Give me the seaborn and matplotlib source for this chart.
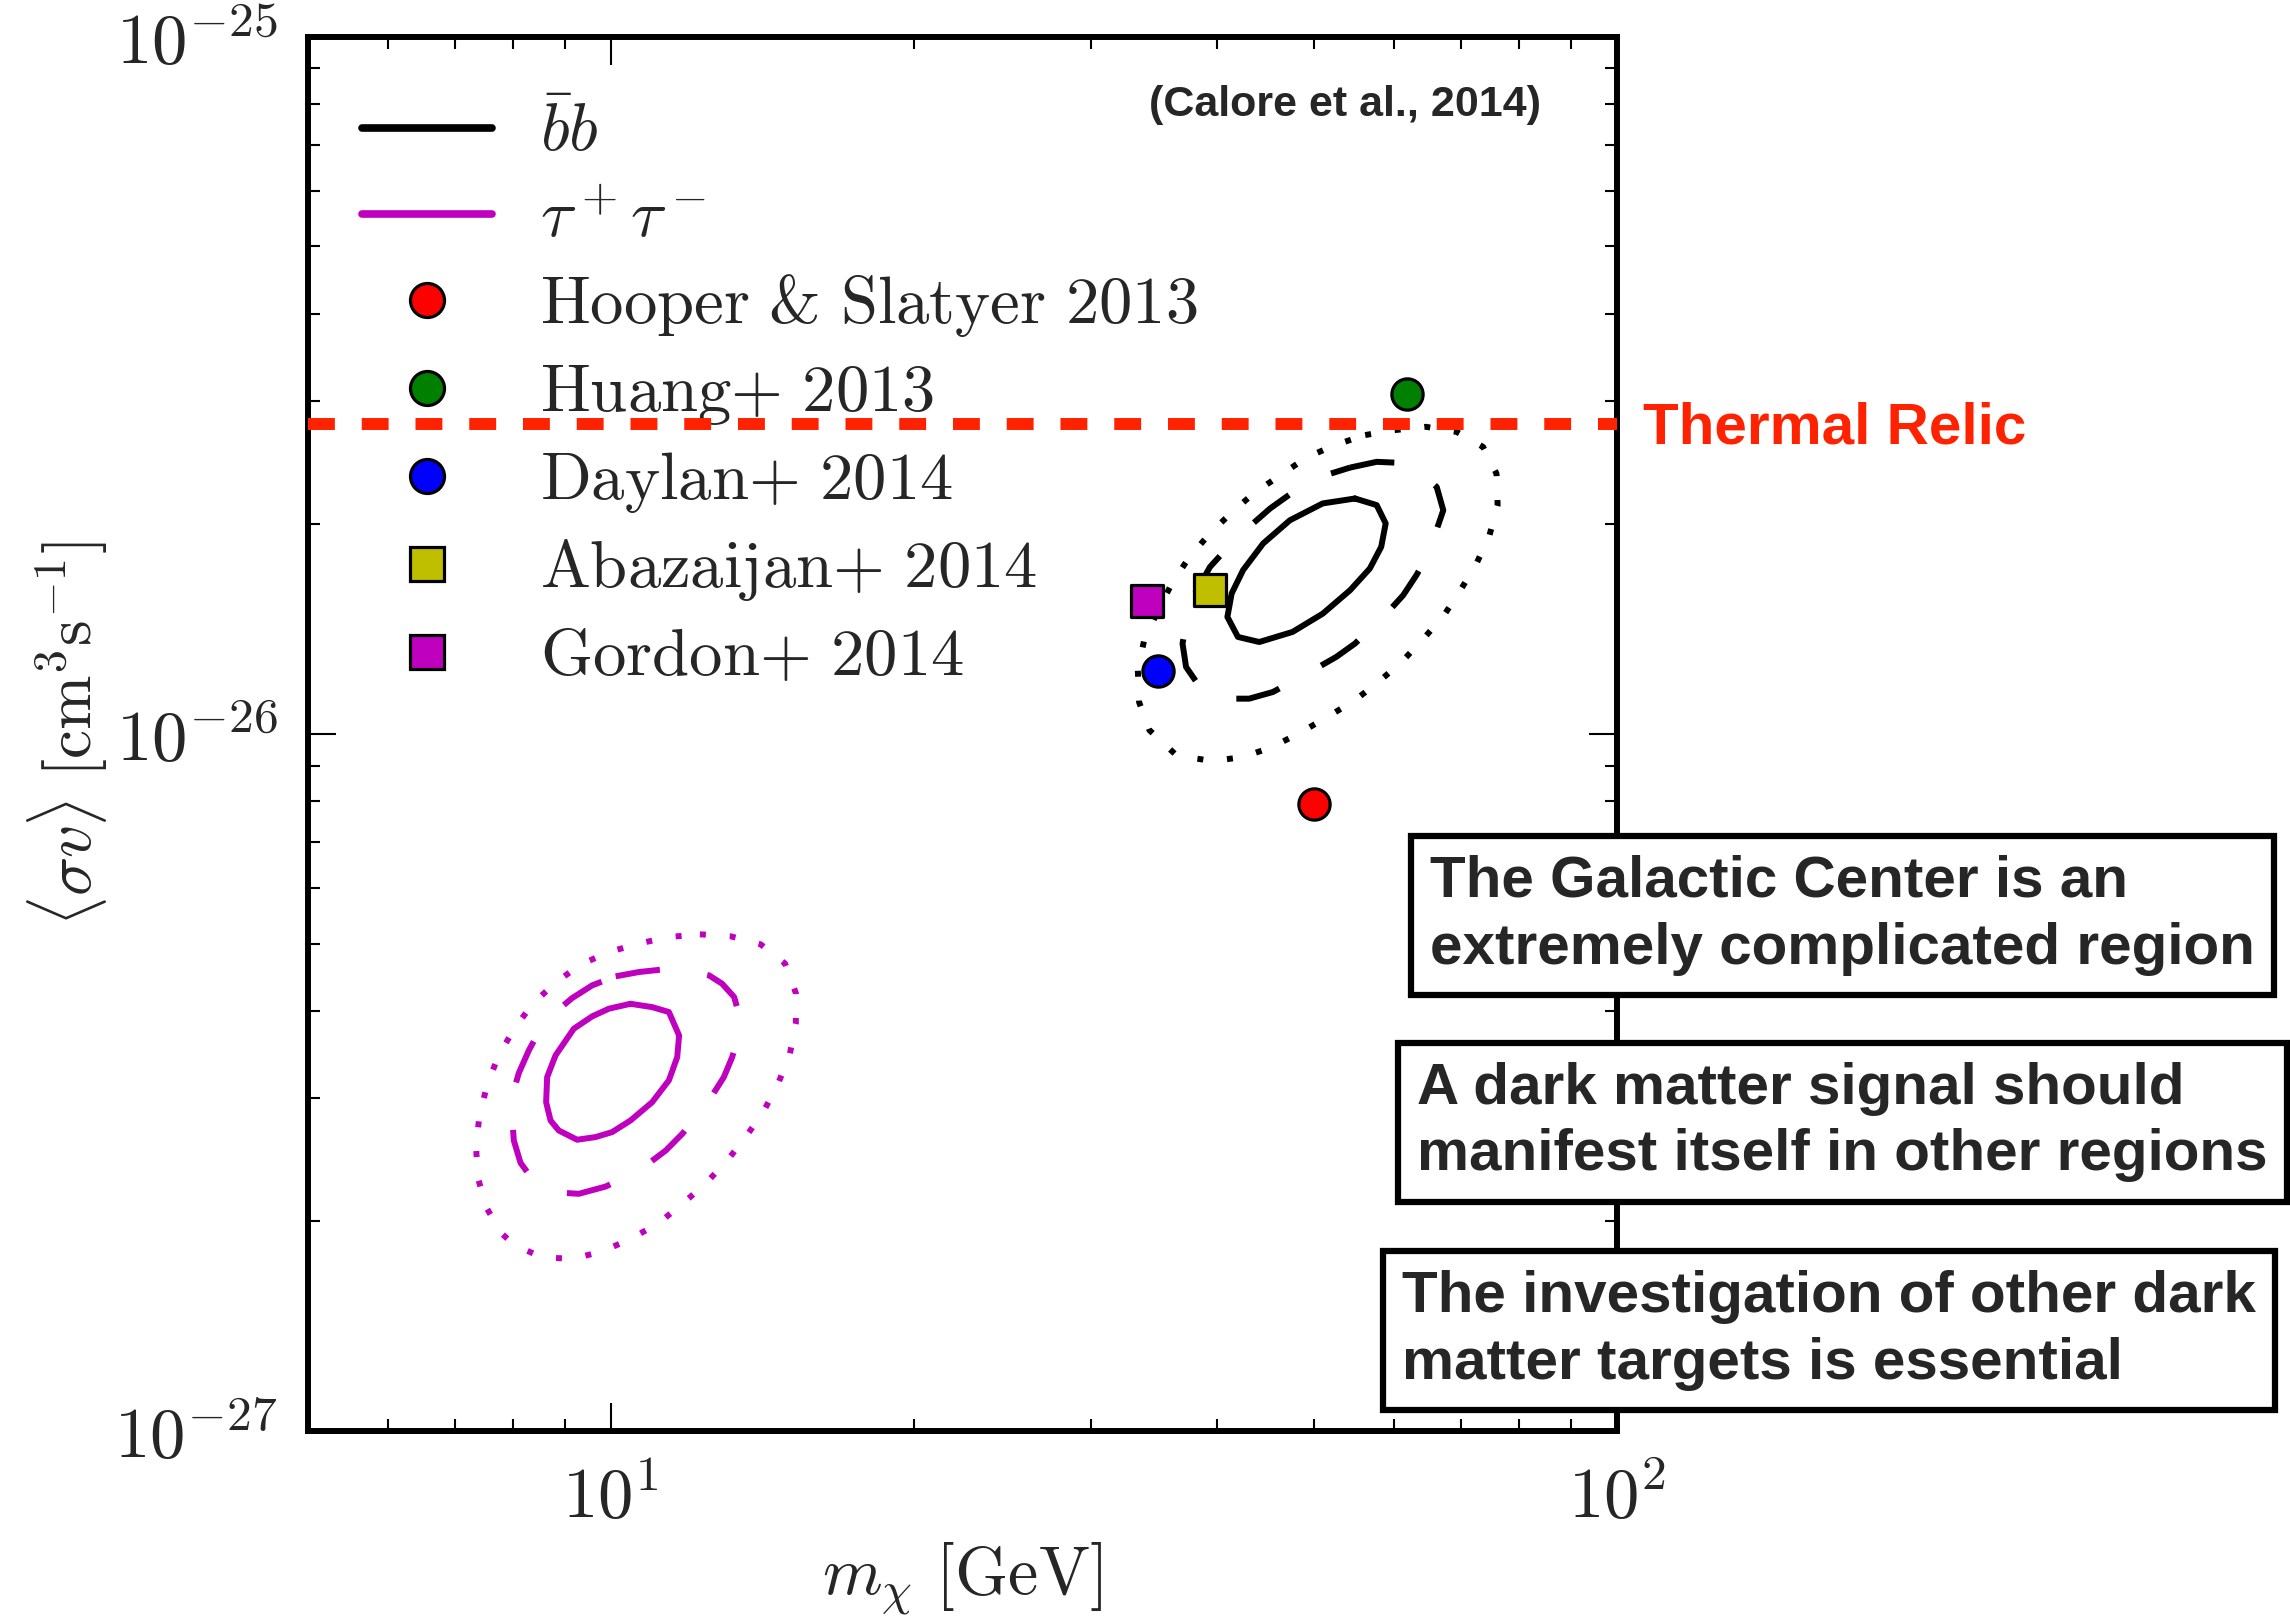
import numpy as np
import matplotlib
matplotlib.use('Agg')
import matplotlib.pyplot as plt
import matplotlib.transforms as mtransforms
from matplotlib.lines import Line2D
from matplotlib.ticker import FixedLocator, LogLocator, NullFormatter, FuncFormatter
import seaborn as sns

sns.set_style('ticks')
plt.rcParams['font.family'] = ['DejaVu Sans']
plt.rcParams['mathtext.fontset'] = 'cm'

# ---------------- data ----------------
# b-bbar contours: mass [GeV], <sigma v> [1e-26 cm^3/s]
bb_solid_m = [54.9, 57.7, 58.9, 58.3, 56.8, 54.3, 51.0, 47.6, 44.1, 42.0, 41.0, 41.4, 42.5, 44.5, 47.3, 51.0]
bb_solid_sv = [2.175, 2.128, 2.003, 1.854, 1.726, 1.607, 1.487, 1.400, 1.354, 1.377, 1.471, 1.589, 1.717, 1.875, 2.024, 2.140]

bb_dash_m = [54.3, 57.7, 60.8, 63.7, 66.2, 67.2, 65.9, 64.7, 63.2, 61.3, 59.0, 54.9, 52.6, 49.9, 45.5, 43.1,
             40.7, 38.8, 37.3, 37.0, 37.4, 37.9, 39.4, 41.8, 45.2, 49.5]
bb_dash_sv = [2.409, 2.455, 2.447, 2.382, 2.259, 2.092, 1.927, 1.794, 1.689, 1.580, 1.487, 1.347, 1.289, 1.234,
              1.148, 1.123, 1.123, 1.148, 1.247, 1.347, 1.471, 1.571, 1.735, 1.906, 2.104, 2.311]

bb_dot_m = [56.2, 60.1, 64.6, 69.3, 73.6, 75.9, 76.1, 74.7, 72.5, 69.9, 67.2, 64.1, 61.1, 57.9, 54.7, 51.4, 48.4,
            45.4, 42.5, 39.6, 36.5, 34.3, 33.5, 33.4, 33.9, 35.0, 36.1, 37.5, 39.3, 41.4, 43.6, 46.3, 49.1, 52.4]
bb_dot_sv = [2.682, 2.726, 2.756, 2.710, 2.579, 2.362, 2.128, 1.927, 1.754, 1.607, 1.474, 1.365, 1.268, 1.186,
             1.113, 1.055, 1.003, 0.957, 0.926, 0.914, 0.931, 1.012, 1.110, 1.234, 1.365, 1.504, 1.642, 1.784,
             1.931, 2.077, 2.216, 2.349, 2.489, 2.594]

# tau+tau- contours: mass [GeV], <sigma v> [1e-27 cm^3/s]
tau_solid_m = [10.46, 10.99, 11.42, 11.69, 11.64, 11.42, 10.99, 10.46, 10.03, 9.656, 9.257, 8.876, 8.710, 8.623,
               8.643, 8.810, 9.187, 9.581, 9.954]
tau_solid_sv = [4.10, 4.055, 3.990, 3.693, 3.438, 3.184, 2.962, 2.789, 2.684, 2.640, 2.617, 2.698, 2.789, 2.962,
                3.218, 3.457, 3.776, 3.933, 4.034]

tau_dash_m = [10.11, 10.66, 11.21, 11.87, 12.52, 12.90, 13.26, 13.36, 13.41, 13.20, 12.95, 12.61, 12.19, 11.78,
              11.34, 10.91, 10.34, 9.879, 9.293, 8.743, 8.351, 8.132, 8.008, 7.977, 8.008, 8.100, 8.288, 8.513,
              8.810, 9.152, 9.581]
tau_dash_sv = [4.489, 4.553, 4.589, 4.578, 4.503, 4.381, 4.192, 4.034, 3.715, 3.438, 3.218, 3.029, 2.835, 2.670,
               2.526, 2.422, 2.312, 2.242, 2.189, 2.201, 2.300, 2.425, 2.611, 2.835, 3.080, 3.261, 3.515, 3.776,
               3.990, 4.178, 4.357]

tau_dot_m = [12.26, 13.16, 14.09, 14.90, 15.27, 15.27, 15.06, 14.67, 14.20, 13.63, 13.05, 12.43, 11.78, 11.15,
             10.46, 9.818, 9.167, 8.533, 8.008, 7.786, 7.516, 7.374, 7.345, 7.402, 7.533, 7.726, 8.008, 8.351,
             8.797, 9.330, 9.954, 10.65, 11.40]
tau_dot_sv = [5.157, 5.123, 4.989, 4.682, 4.248, 3.839, 3.469, 3.155, 2.883, 2.646, 2.443, 2.267, 2.118, 1.986,
              1.886, 1.811, 1.766, 1.775, 1.851, 1.921, 2.095, 2.312, 2.560, 2.835, 3.131, 3.446, 3.767, 4.091,
              4.390, 4.667, 4.864, 5.000, 5.110]

# literature best-fit points
point_labels = ['Hooper & Slatyer 2013', 'Huang+ 2013', 'Daylan+ 2014', 'Abazaijan+ 2014', 'Gordon+ 2014']
point_mass = [50.0, 61.8, 35.0, 39.4, 34.1]
point_sv = [7.94e-27, 3.07e-26, 1.23e-26, 1.61e-26, 1.55e-26]
point_colors = ['r', 'g', 'b', 'y', 'm']
point_markers = ['o', 'o', 'o', 's', 's']

thermal_relic = 2.78e-26

boxes_text = ['The Galactic Center is an\nextremely complicated region',
              'A dark matter signal should\nmanifest itself in other regions',
              'The investigation of other dark\nmatter targets is essential']

# ---------------- figure ----------------
fig = plt.figure(figsize=(22.9, 16.17), dpi=100)
ax = fig.add_axes([0.1345, 0.1150, 0.5716, 0.8624])
ax.set_xscale('log')
ax.set_yscale('log')
ax.set_xlim(5, 100)
ax.set_ylim(1e-27, 1e-25)

def closed(a):
    a = np.asarray(a, dtype=float)
    return np.append(a, a[0])

DASH = (0, (7.5, 8.0))
DOT = (0, (1.0, 4.0))
LW = 4.3
contours = [
    (bb_solid_m, bb_solid_sv, 1e-26, 'k', '-'),
    (bb_dash_m, bb_dash_sv, 1e-26, 'k', DASH),
    (bb_dot_m, bb_dot_sv, 1e-26, 'k', DOT),
    (tau_solid_m, tau_solid_sv, 1e-27, 'm', '-'),
    (tau_dash_m, tau_dash_sv, 1e-27, 'm', DASH),
    (tau_dot_m, tau_dot_sv, 1e-27, 'm', DOT),
]
for m, sv, unit, c, ls in contours:
    sns.lineplot(x=closed(m), y=closed(sv) * unit, sort=False, estimator=None, ax=ax,
                 color=c, linewidth=LW, linestyle=ls, zorder=3)

for lab, mx, sv, c, mk in zip(point_labels, point_mass, point_sv, point_colors, point_markers):
    sns.scatterplot(x=[mx], y=[sv], ax=ax, marker=mk, s=(22.5 if mk == 'o' else 23.5) ** 2,
                    color=c, edgecolor='k', linewidth=2.3, zorder=4)

ax.axhline(thermal_relic, color='#ff2200', linewidth=8.6, linestyle=(0, (2.25, 2.25)), zorder=10)

# ticks
ax.xaxis.set_major_locator(FixedLocator([10, 100]))
ax.xaxis.set_minor_locator(LogLocator(base=10, subs=np.arange(2, 10)))
ax.yaxis.set_major_locator(FixedLocator([1e-27, 1e-26, 1e-25]))
ax.yaxis.set_minor_locator(LogLocator(base=10, subs=np.arange(2, 10)))
fmt = FuncFormatter(lambda v, p: r'$10^{%d}$' % int(round(np.log10(v))))
ax.xaxis.set_major_formatter(fmt)
ax.yaxis.set_major_formatter(fmt)
ax.xaxis.set_minor_formatter(NullFormatter())
ax.yaxis.set_minor_formatter(NullFormatter())
ax.tick_params(which='both', direction='in', top=True, right=True, color='k')
ax.tick_params(which='major', length=20, width=1.5, labelsize=51)
ax.tick_params(which='minor', length=8.6, width=1.5)
ax.tick_params(axis='x', which='major', pad=24)
ax.tick_params(axis='y', which='major', pad=22)
for s in ax.spines.values():
    s.set_linewidth(4.3)
    s.set_color('k')
    s.set_visible(True)

ax.set_xlabel(r'$m_\chi\ [\mathrm{GeV}]$', fontsize=49, labelpad=5)
ax.set_ylabel(r'$\langle \sigma v\rangle\ [\mathrm{cm}^3\mathrm{s}^{-1}]$', fontsize=47, labelpad=3)

# legend
handles = [Line2D([], [], color='k', lw=5.5), Line2D([], [], color='m', lw=5.5)]
labels = [r'$\bar{b}b$', r'$\tau^+\tau^-$']
for lab, c, mk in zip(point_labels, point_colors, point_markers):
    handles.append(Line2D([], [], linestyle='none', marker=mk, markersize=24.5,
                          markerfacecolor=c, markeredgecolor='k', markeredgewidth=2.3))
    labels.append(r'$\mathrm{' + lab.replace(' ', r'\ ').replace('+', '{+}') + '}$')
leg = ax.legend(handles, labels, loc='upper left', bbox_to_anchor=(0.041, 0.955), frameon=False,
                fontsize=48, handlelength=1.95, handletextpad=0.72, labelspacing=0.30, borderpad=0,
                borderaxespad=0, numpoints=1)
leg.set_zorder(5)

sans = ['Liberation Sans', 'DejaVu Sans']
ax.text(0.942, 0.951, '(Calore et al., 2014)', transform=ax.transAxes, ha='right', va='center',
        fontsize=31, fontweight='bold', family=sans, zorder=6)
trans = mtransforms.blended_transform_factory(ax.transAxes, ax.transData)
ax.annotate('Thermal Relic', xy=(1.02, thermal_relic), xycoords=trans, xytext=(0, -3),
            textcoords='offset points', ha='left', va='center', fontsize=42, fontweight='bold',
            color='#ff2200', family=sans, annotation_clip=False)

box_pos = [(0.6245, 0.434), (0.6187, 0.306), (0.6122, 0.1772)]
for (bx, by), t in zip(box_pos, boxes_text):
    fig.text(bx, by, t, ha='left', va='center', fontsize=42, fontweight='bold', family=sans,
             linespacing=1.3, zorder=10,
             bbox=dict(boxstyle='square,pad=0.33', fc='white', ec='black', lw=4.5))

fig.savefig('out.png', dpi=100)
